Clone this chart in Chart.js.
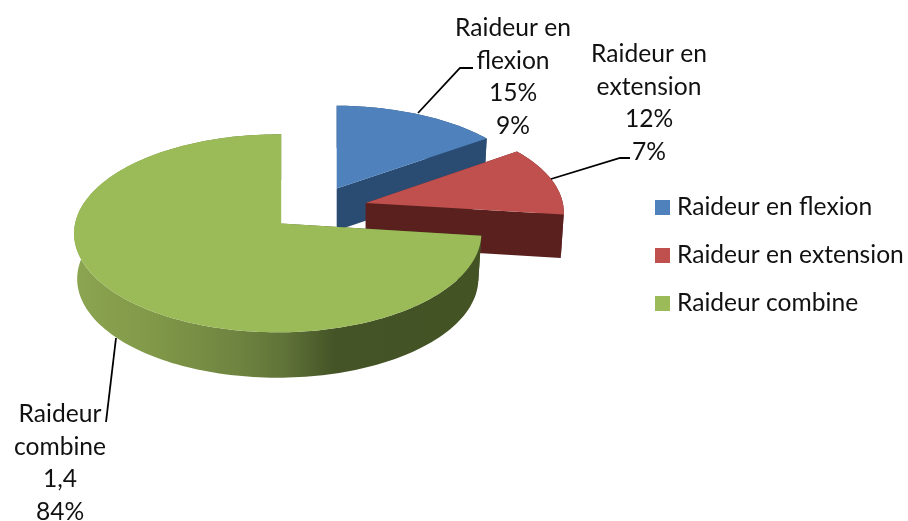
<!DOCTYPE html>
<html>
<head>
<meta charset="utf-8">
<title>Raideur</title>
<script src="https://cdn.jsdelivr.net/npm/chart.js@4"></script>
<style>
  html, body { margin: 0; padding: 0; background: #fff; }
  #wrap { width: 908px; height: 521px; }
</style>
</head>
<body>
<div id="wrap"><canvas id="chart" width="908" height="521"></canvas></div>
<script>
// Data
const categories = ['Raideur en flexion', 'Raideur en extension', 'Raideur combine'];
const sliceValues = [15, 12, 73];
const labelLines = [
  ['Raideur en', 'flexion', '15%', '9%'],
  ['Raideur en', 'extension', '12%', '7%'],
  ['Raideur', 'combine', '1,4', '84%']
];

// Styles
const topColors = ['#4f81bd', '#c0504d', '#9bbb59'];
const wallStops = [
  [[0, '#2a4c73'], [1, '#2a4c73']],
  [[0, '#5a201e'], [1, '#5a201e']],
  [[0, '#8ca551'], [0.2, '#809848'], [0.4, '#6f8440'], [0.52, '#5f7238'], [0.64, '#445426'], [1, '#435324']]
];
const FONT = '24.6px Lato';
const TEXT_COLOR = '#111';

// 3D pie projection
const OX = 317, OY = 208.5;    // screen position of the pie centre
const AX = 201, BY = 95;       // ellipse half axes
const PERSP = 0.1;             // front of a slice bigger than its back
const SIDE = 0.017;            // left of a slice bigger than its right
const NEAR_X = 0.05, NEAR_Y = 0.2; // slices nearer the viewer are bigger
const DEPTH = 44;              // wall height
const TAPER = 0.015;           // base slightly narrower than top
const STEP = Math.PI / 120;
const sliceNudgeX = [-2, 2.5, 0];

// Annotation layout
const labelCenters = [[513, 28], [649, 54], [60, 414]];
const LINE_GAP = 32.7;
const leaders = [
  [[418, 113], [460, 68], [473, 68]],
  [[551, 179], [620, 158], [630, 158]],
  [[116, 338], [106, 422]]
];
const LEGEND_X = 655, LEGEND_Y = 200, LEGEND_GAP = 48, SWATCH = 15;

function sliceProjector(arc, i) {
  const mid = (arc.startAngle + arc.endAngle) / 2;
  const d = arc.options.offset / arc.outerRadius;
  const du = Math.cos(mid) * d, dv = Math.sin(mid) * d;
  const scaleX = 1 + NEAR_X * dv, scaleY = 1 + NEAR_Y * dv;
  const X = OX + AX * du + sliceNudgeX[i], Y = OY + BY * dv;
  return (angle, r, z) => {
    const u = r * Math.cos(angle), v = r * Math.sin(angle);
    const g = 1 / (1 - PERSP * v + SIDE * u);
    return [X + AX * scaleX * u * g * (1 - TAPER * z), Y + BY * scaleY * v * g + DEPTH * scaleY * z];
  };
}

function fillPoly(ctx, pts, fill) {
  ctx.beginPath();
  pts.forEach((p, i) => i ? ctx.lineTo(p[0], p[1]) : ctx.moveTo(p[0], p[1]));
  ctx.closePath();
  ctx.fillStyle = fill;
  ctx.fill();
}

const pie3d = {
  id: 'pie3d',
  beforeDatasetsDraw(chart) {
    const ctx = chart.ctx;
    chart.getDatasetMeta(0).data.forEach((arc, i) => {
      const pt = sliceProjector(arc, i);
      const s = arc.startAngle, e = arc.endAngle;
      const rim = [];
      for (let a = s; a < e; a += STEP) rim.push(a);
      rim.push(e);

      // x gradient over the slice for the walls
      const xs = rim.map(a => pt(a, 1, 0)[0]);
      const grad = ctx.createLinearGradient(Math.min(...xs), 0, Math.max(...xs), 0);
      wallStops[i].forEach(st => grad.addColorStop(st[0], st[1]));

      // cut faces
      [s, e].forEach(a => fillPoly(ctx, [pt(a, 0, 0), pt(a, 1, 0), pt(a, 1, 1), pt(a, 0, 1)], grad));
      // outer wall
      fillPoly(ctx, rim.map(a => pt(a, 1, 0)).concat(rim.slice().reverse().map(a => pt(a, 1, 1))), grad);
      // top
      fillPoly(ctx, [pt(s, 0, 0)].concat(rim.map(a => pt(a, 1, 0))), topColors[i]);
    });
    return false;
  },
  afterDraw(chart) {
    const ctx = chart.ctx;
    ctx.save();
    // leader lines
    ctx.strokeStyle = '#000';
    ctx.lineWidth = 1.8;
    leaders.forEach(line => {
      ctx.beginPath();
      line.forEach((p, i) => i ? ctx.lineTo(p[0], p[1]) : ctx.moveTo(p[0], p[1]));
      ctx.stroke();
    });
    // data labels
    ctx.font = FONT;
    ctx.fillStyle = TEXT_COLOR;
    ctx.textAlign = 'center';
    ctx.textBaseline = 'middle';
    labelLines.forEach((lines, i) => {
      lines.forEach((txt, j) => ctx.fillText(txt, labelCenters[i][0], labelCenters[i][1] + j * LINE_GAP));
    });
    // legend
    ctx.textAlign = 'left';
    chart.data.labels.forEach((txt, i) => {
      const y = LEGEND_Y + i * LEGEND_GAP;
      ctx.fillStyle = topColors[i];
      ctx.fillRect(LEGEND_X, y, SWATCH, SWATCH);
      ctx.fillStyle = TEXT_COLOR;
      ctx.fillText(txt, LEGEND_X + 22, y + SWATCH / 2);
    });
    ctx.restore();
  }
};

new Chart(document.getElementById('chart'), {
  type: 'pie',
  data: {
    labels: categories,
    datasets: [{ data: sliceValues, backgroundColor: topColors, borderWidth: 0, offset: 47.5 }]
  },
  options: {
    responsive: false,
    animation: false,
    radius: 200,
    plugins: { legend: { display: false }, tooltip: { enabled: false } }
  },
  plugins: [pie3d]
});
</script>
</body>
</html>
